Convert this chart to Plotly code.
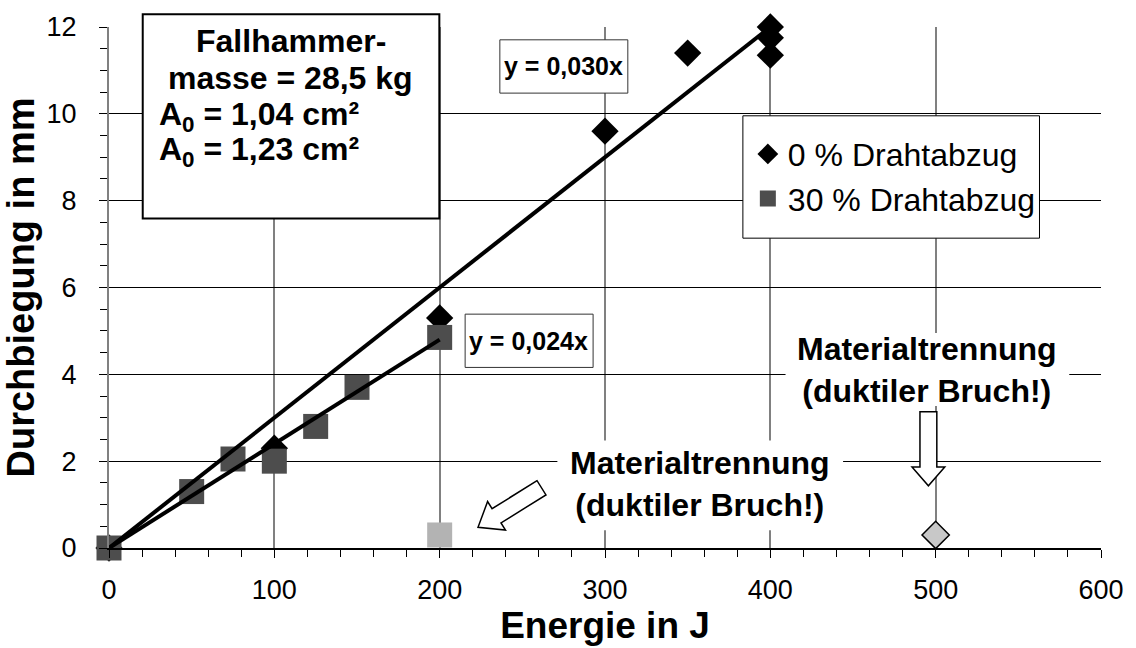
import math
import plotly.graph_objects as go

# ---------------- data ----------------
energy_0 = [0, 100, 200, 300, 350, 400, 400, 400]
defl_0 = [0, 2.3, 5.3, 9.6, 11.4, 12.0, 11.75, 11.35]

energy_30 = [0, 50, 75, 100, 125, 150, 200]
defl_30 = [0, 1.3, 2.05, 2.0, 2.8, 3.7, 4.85]

sep_energy_30 = [200]
sep_defl_30 = [0.3]
sep_energy_0 = [500]
sep_defl_0 = [0.3]

slope_0 = 0.030
fit_x_0 = [0, 400]
slope_30 = 0.024
fit_x_30 = [0, 200]

x_ticks = [0, 100, 200, 300, 400, 500, 600]
y_ticks = [0, 2, 4, 6, 8, 10, 12]

# ---------------- layout geometry (pixels) ----------------
W, H = 1136, 648
L, R, T, B = 108, 28, 23, 97
PW, PH = W - L - R, H - T - B
FONT = "Liberation Sans, Arial, sans-serif"


def px(x):
    return (x - L) / PW


def py(y):
    return (H - B - y) / PH


def arrow_path(tail, tip, shaft_w, head_w, head_len):
    tx, ty = tail
    hx, hy = tip
    dx, dy = hx - tx, hy - ty
    ln = math.hypot(dx, dy)
    ux, uy = dx / ln, dy / ln
    nx, ny = -uy, ux
    bx, by = hx - ux * head_len, hy - uy * head_len
    s, h = shaft_w / 2, head_w / 2
    pts = [
        (tx + nx * s, ty + ny * s),
        (bx + nx * s, by + ny * s),
        (bx + nx * h, by + ny * h),
        (hx, hy),
        (bx - nx * h, by - ny * h),
        (bx - nx * s, by - ny * s),
        (tx - nx * s, ty - ny * s),
    ]
    return "M " + " L ".join(f"{px(a):.5f},{py(b):.5f}" for a, b in pts) + " Z"


fig = go.Figure()

fig.add_trace(go.Scatter(
    x=energy_0, y=defl_0, mode="markers", name="0 % Drahtabzug",
    legendgroup="a", cliponaxis=False,
    marker=dict(symbol="diamond", size=21, color="black", line=dict(width=0)),
))
fig.add_trace(go.Scatter(
    x=energy_30, y=defl_30, mode="markers", name="30 % Drahtabzug",
    legendgroup="b", cliponaxis=False,
    marker=dict(symbol="square", size=25, color="#4d4d4d", line=dict(width=0)),
))
fig.add_trace(go.Scatter(
    x=sep_energy_30, y=sep_defl_30, mode="markers", showlegend=False, cliponaxis=False,
    marker=dict(symbol="square", size=25, color="#b3b3b3", line=dict(width=0)),
))
fig.add_trace(go.Scatter(
    x=sep_energy_0, y=sep_defl_0, mode="markers", showlegend=False, cliponaxis=False,
    marker=dict(symbol="diamond", size=21, color="#c8c8c8",
                line=dict(width=1.5, color="black")),
))
fig.add_trace(go.Scatter(
    x=fit_x_0, y=[slope_0 * v for v in fit_x_0], mode="lines",
    showlegend=False, cliponaxis=False, line=dict(color="black", width=4),
))
fig.add_trace(go.Scatter(
    x=fit_x_30, y=[slope_30 * v for v in fit_x_30], mode="lines",
    showlegend=False, cliponaxis=False, line=dict(color="black", width=4),
))


def rect(x0, x1, y0, y1, color="black", width=1):
    return dict(type="rect", xref="paper", yref="paper",
                x0=px(x0), x1=px(x1), y0=py(y1), y1=py(y0),
                fillcolor="white", line=dict(color=color, width=width), layer="above")


shapes = [
    rect(142, 441, 10, 217, "black", 2),          # info box
    rect(502, 631, 36, 90, "#333333", 1),         # equation 0 %
    rect(467, 596, 314, 368, "#333333", 1),       # equation 30 %
    rect(747, 1046, 113, 237, "black", 1),        # legend box
    rect(560, 848, 442, 533, "white", 0),         # label mask left
    rect(790, 1076, 333, 407, "white", 0),        # label mask right
    dict(type="path", xref="paper", yref="paper",
         path=arrow_path((544, 490), (480, 530), 17, 34, 22),
         fillcolor="white", line=dict(color="black", width=1.5), layer="above"),
    dict(type="path", xref="paper", yref="paper",
         path=arrow_path((934, 413), (934, 488), 17, 33, 19),
         fillcolor="white", line=dict(color="black", width=1.5), layer="above"),
]


def label(text, x, y, size, anchor="center"):
    return dict(xref="paper", yref="paper", x=px(x), y=py(y), xanchor=anchor,
                yanchor="middle", text=text, showarrow=False, align="center",
                font=dict(family=FONT, size=size, color="black", weight="bold"))


annotations = [
    label("Fallhammer-", 291, 37, 32),
    label("masse = 28,5 kg", 291, 75, 32),
    label("A<sub>0</sub> = 1,04 cm²", 156, 114, 32, "left"),
    label("A<sub>0</sub> = 1,23 cm²", 156, 149, 32, "left"),
    label("y = 0,030x", 566, 63, 25),
    label("y = 0,024x", 531, 341, 25),
    label("Materialtrennung<br>(duktiler Bruch!)", 704, 486, 32),
    label("Materialtrennung<br>(duktiler Bruch!)", 933, 371, 32),
]

fig.update_layout(
    width=W, height=H, autosize=False,
    margin=dict(l=L, r=R, t=T, b=B, pad=0),
    paper_bgcolor="white", plot_bgcolor="white",
    font=dict(family=FONT, color="black"),
    showlegend=True,
    legend=dict(x=px(752), y=py(124), xanchor="left", yanchor="top",
                bgcolor="rgba(0,0,0,0)", borderwidth=0,
                font=dict(family=FONT, size=32, color="black"),
                traceorder="grouped", tracegroupgap=0),
    shapes=shapes,
    annotations=annotations,
    xaxis=dict(
        range=[0, 600], tickvals=x_ticks, ticktext=[str(v) for v in x_ticks],
        ticks="outside", ticklen=8, tickwidth=1, tickcolor="black",
        showgrid=True, gridcolor="#808080", gridwidth=1.5,
        showline=True, linecolor="black", linewidth=1.5, zeroline=False,
        minor=dict(dtick=20, tick0=0, ticks="outside", ticklen=7, tickcolor="black",
                   tickwidth=1, showgrid=False),
        tickfont=dict(family=FONT, size=27, color="black"),
        ticklabelstandoff=9,
        title=dict(text="Energie in J", standoff=5,
                   font=dict(family=FONT, size=37, color="black", weight="bold")),
        fixedrange=True,
    ),
    yaxis=dict(
        range=[0, 12], tickvals=y_ticks, ticktext=[str(v) for v in y_ticks],
        ticks="outside", ticklen=8, tickwidth=1, tickcolor="black",
        showgrid=True, gridcolor="black", gridwidth=1,
        showline=True, linecolor="#808080", linewidth=2, zeroline=False,
        minor=dict(dtick=0.5, tick0=0, ticks="outside", ticklen=7, tickcolor="black",
                   tickwidth=1, showgrid=False),
        tickfont=dict(family=FONT, size=27, color="black"),
        ticklabelstandoff=17,
        title=dict(text="Durchbiegung in mm", standoff=8,
                   font=dict(family=FONT, size=38, color="black", weight="bold")),
        fixedrange=True,
    ),
)

fig.write_html("out.html")
